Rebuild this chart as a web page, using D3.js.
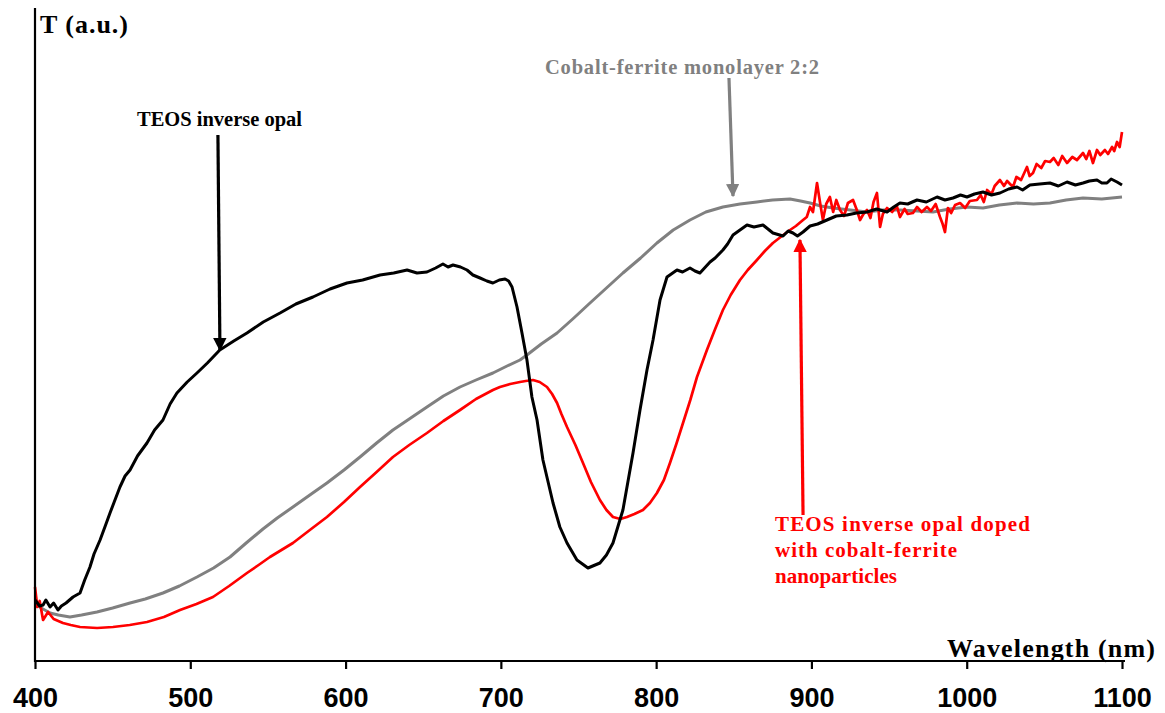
<!DOCTYPE html>
<html>
<head>
<meta charset="utf-8">
<script src="https://cdn.jsdelivr.net/npm/d3@7"></script>
<style>
  body { margin: 0; background: #fff; }
  svg { display: block; }
</style>
</head>
<body>
<svg id="chart" width="1165" height="713"></svg>
<script>
// ---- Data (wavelength nm, transmittance a.u.) ----
const xTicks = [400, 500, 600, 700, 800, 900, 1000, 1100];

const teosOpal = [
  [400,6.0],[403,5.4],[405.2,5.5],[407,6.0],[409.7,5.3],[412,5.7],[414.8,5.0],[417,5.4],[420,5.7],[424.5,6.3],[429,6.7],
  [432,8.0],[435.4,9.3],[438,10.6],[441.9,12.0],[445,13.3],[448.3,14.7],[451,15.8],[454.7,17.3],[458,18.4],[461.2,19.0],
  [466,20.4],[472.1,21.7],[477,23.0],[482.4,24.0],[487,25.6],[491.4,26.7],[498,27.8],[504.3,28.7],[511,29.7],[519,31.0],
  [528,31.9],[536.5,32.7],[547,33.8],[557.8,34.7],[568,35.6],[579,36.3],[590,37.1],[600.9,37.7],[611,38.0],[622.2,38.5],
  [631,38.7],[639.6,39.0],[646,38.7],[652.4,38.8],[658,39.2],[662.7,39.6],[666,39.3],[669.2,39.5],[674,39.3],[678.2,39.0],
  [682,38.5],[686.6,38.2],[691,37.9],[694.9,37.7],[699,38.0],[702.7,38.1],[705,37.9],[707.2,37.3],[710.4,35.3],[713.6,32.7],
  [716.8,30.0],[720,26.3],[723.3,24.0],[727.1,20.0],[733.6,15.7],[738,13.3],[742.6,11.7],[749,10.0],[756.1,9.2],[763.8,9.7],
  [768,10.5],[772.2,11.7],[778.6,15.0],[785.1,20.7],[789.6,25.0],[794.1,29.0],[798,32.0],[802.5,36.0],[807,38.3],[813.4,39.0],
  [817,38.8],[821.8,39.2],[825,38.9],[828.2,38.7],[834.7,39.8],[838,40.2],[843,41.0],[846,41.6],[849.5,42.5],[854,43.0],
  [858.5,43.5],[863,43.3],[868.8,43.5],[872,43.1],[875.2,42.7],[881.7,42.4],[885,42.9],[888.1,42.7],[891,42.4],[894.6,42.8],
  [899.1,43.4],[904,43.6],[910,44.0],[916,44.4],[922.9,44.5],[929,44.7],[935.8,44.8],[942,45.1],[948.7,44.8],[953,45.3],
  [957,45.7],[962,45.6],[968,46.0],[974,45.8],[980.9,46.3],[986,46.0],[991.2,46.2],[996,46.5],[1000.2,46.3],[1005,46.6],
  [1010.5,46.8],[1016,46.5],[1021.4,46.7],[1027,47.1],[1032.4,47.3],[1036,47.0],[1040.7,47.5],[1047,47.6],[1053.6,47.7],
  [1059,47.4],[1064.6,47.8],[1070,47.5],[1074.9,47.7],[1079,47.9],[1083.9,48.0],[1087,47.7],[1090.3,47.7],[1093,48.1],
  [1096.8,47.8],[1100,47.5]
];

const cofeMonolayer = [
  [400,5.7],[404,5.2],[409.7,4.7],[415,4.5],[422.5,4.3],[430,4.5],[439.9,4.8],[450,5.2],[461.2,5.7],[471,6.1],[482.4,6.7],
  [493,7.4],[504.3,8.3],[515,9.2],[525.6,10.3],[536,11.7],[546.8,13.1],[556,14.2],[566.1,15.3],[577,16.5],[588,17.7],
  [599,19.0],[609.3,20.3],[620,21.7],[630.5,23.0],[641,24.1],[652.4,25.3],[663,26.4],[673.7,27.3],[684,28.0],[694.9,28.7],
  [704,29.4],[712.3,30.0],[716.8,30.5],[726,31.6],[736.2,32.7],[747,34.2],[757.4,35.7],[768,37.2],[778.6,38.7],[790,40.2],
  [800.5,41.7],[811,43.0],[821.8,44.0],[832,44.8],[843,45.3],[854,45.6],[864.9,45.8],[875,46.0],[886.2,46.1],[893,45.9],
  [899.1,45.7],[906,45.4],[913.9,45.2],[925,45.0],[935.8,44.8],[946,45.0],[957,45.0],[968,44.9],[978.3,44.8],[989,45.1],
  [1000.2,45.3],[1010.5,45.2],[1021,45.5],[1032.4,45.7],[1043,45.6],[1053.6,45.7],[1064,46.0],[1074.9,46.2],[1087,46.1],
  [1100,46.3]
];

const teosDoped = [
  [400,7.3],[401.5,5.3],[403,5.9],[405.2,4.0],[408.4,4.8],[412,4.1],[418,3.7],[423,3.5],[429,3.3],[440,3.2],[450.2,3.3],
  [461,3.5],[472.1,3.8],[483,4.3],[493.4,5.0],[504,5.6],[514.6,6.3],[525,7.4],[536.5,8.7],[544,9.5],[551.3,10.3],
  [566.1,11.7],[577,13.0],[588,14.3],[599,15.8],[609.3,17.3],[620,18.8],[630.5,20.3],[641,21.5],[652.4,22.7],[663,23.9],
  [673.7,25.0],[684,26.1],[694.9,27.0],[699.4,27.3],[706,27.6],[712.3,27.8],[716,27.9],[720.7,28.0],[725,27.8],[729.7,27.3],
  [733,26.6],[736.2,25.7],[739,24.6],[742.6,23.3],[748,21.5],[752.9,19.7],[758,17.8],[763.8,16.0],[768,15.0],[772.2,14.3],
  [777,14.1],[781.2,14.3],[786,14.6],[791.5,15.0],[796,15.7],[800.5,16.7],[805,18.0],[808.9,19.7],[813,21.6],[817.3,23.7],
  [822,26.0],[826.3,28.3],[832.7,31.0],[838,33.1],[843,35.0],[848,36.5],[854,38.0],[859,39.0],[864.9,40.0],[870,40.9],
  [875.2,41.7],[881,42.4],[886.2,43.0],[890,43.4],[894.6,44.0],[897,44.3],[899.1,45.3],[901,44.8],[903.6,47.7],[905.5,45.8],
  [907.4,44.0],[909.5,45.6],[911.9,46.3],[914,44.8],[916,46.0],[918.4,45.0],[921,44.4],[923.5,45.7],[926.8,46.0],[929,45.1],
  [931.3,44.0],[933.5,44.6],[935.8,45.0],[938,44.2],[940,45.8],[942.2,46.7],[944.2,43.3],[946,44.6],[948.7,45.2],[952,44.8],
  [955,45.4],[957,44.3],[960,45.1],[962,44.6],[965.4,44.7],[968,45.3],[971,44.8],[974.4,45.3],[977,44.9],[980,45.6],
  [982.8,44.3],[984.5,43.6],[986,42.8],[987.9,45.2],[990,44.7],[992.5,45.5],[995.7,45.7],[999,45.2],[1002,45.9],[1006.6,46.0],
  [1009,46.5],[1011,45.8],[1013.1,47.0],[1016,46.6],[1018,47.4],[1021.4,48.0],[1024,47.4],[1026,47.9],[1029.8,47.3],
  [1032,48.3],[1035,48.0],[1038.8,49.3],[1040.5,48.4],[1042.7,48.7],[1045,49.6],[1048,49.2],[1050.5,49.9],[1053.6,49.8],
  [1056,50.2],[1059,49.5],[1061.5,50.4],[1064.6,49.7],[1068,50.3],[1071,50.0],[1074.9,50.7],[1077,50.1],[1079,50.9],
  [1081.3,49.7],[1083.9,51.0],[1086,50.5],[1089,51.0],[1091,50.6],[1093.6,51.3],[1095,50.9],[1096.8,51.8],[1098.5,51.3],
  [1100,52.8]
];

const seriesList = [
  { name: "Cobalt-ferrite monolayer 2:2", data: cofeMonolayer, color: "#808080", width: 3 },
  { name: "TEOS inverse opal doped with cobalt-ferrite nanoparticles", data: teosDoped, color: "#ff0000", width: 2.7 },
  { name: "TEOS inverse opal", data: teosOpal, color: "#000000", width: 3 }
];

// ---- Layout ----
const svg = d3.select("#chart");
const x = d3.scaleLinear().domain([400, 1100]).range([35, 1122]);
const y = d3.scaleLinear().domain([0, 65.2]).range([660, 8]);

const serif = "'Liberation Serif', 'Times New Roman', serif";
const sans = "'Liberation Sans', Arial, sans-serif";

// lines
const line = d3.line().x(d => x(d[0])).y(d => y(d[1])).curve(d3.curveLinear);
seriesList.forEach(s => {
  svg.append("path")
    .datum(s.data)
    .attr("fill", "none")
    .attr("stroke", s.color)
    .attr("stroke-width", s.width)
    .attr("stroke-linejoin", "round")
    .attr("d", line);
});

// axes
const xAxis = d3.axisBottom(x).tickValues(xTicks).tickFormat(d3.format("d"))
  .tickSize(8).tickSizeOuter(0).tickPadding(19);
const gx = svg.append("g").attr("transform", `translate(0,661)`).call(xAxis);
gx.select(".domain").attr("stroke", "#000").attr("stroke-width", 2.2).attr("d", "M34,0H1125");
gx.selectAll(".tick line").attr("stroke", "#000").attr("stroke-width", 2.2);
gx.selectAll(".tick text")
  .attr("fill", "#000")
  .style("font-family", sans)
  .style("font-weight", "bold")
  .style("font-size", "27px");

svg.append("line")
  .attr("x1", 35).attr("x2", 35).attr("y1", 8).attr("y2", 662)
  .attr("stroke", "#000").attr("stroke-width", 2.2);

// text helper: bold serif, stretched to the measured width
function label(txt, xp, yp, color, size, width, anchor) {
  svg.append("text").attr("x", xp).attr("y", yp).attr("fill", color)
    .attr("text-anchor", anchor || "start")
    .attr("textLength", width).attr("lengthAdjust", "spacing")
    .style("font-family", serif).style("font-weight", "bold").style("font-size", size + "px")
    .text(txt);
}

// axis titles
label("T (a.u.)", 40, 33, "#000", 26, 88);
label("Wavelength (nm)", 947, 657, "#000", 26, 208);

// arrow markers
const defs = svg.append("defs");
[["arrBlack", "#000000"], ["arrGray", "#808080"], ["arrRed", "#ff0000"]].forEach(([id, c]) => {
  defs.append("marker")
    .attr("id", id).attr("viewBox", "0 0 10 10").attr("refX", 9).attr("refY", 5)
    .attr("markerWidth", 4.2).attr("markerHeight", 4.2).attr("orient", "auto")
    .append("path").attr("d", "M0,0L10,5L0,10Z").attr("fill", c);
});

function arrow(x1, y1, x2, y2, color, marker) {
  svg.append("line")
    .attr("x1", x(x1)).attr("y1", y(y1)).attr("x2", x(x2)).attr("y2", y(y2))
    .attr("stroke", color).attr("stroke-width", 3.2)
    .attr("marker-end", `url(#${marker})`);
}
arrow(517.8, 52.5, 519.1, 31.0, "#000000", "arrBlack");
arrow(846.9, 58.2, 849.5, 46.4, "#808080", "arrGray");
arrow(894.6, 14.5, 892.6, 42.0, "#ff0000", "arrRed");

// annotation labels
label("TEOS inverse opal", 137, 126, "#000000", 20.5, 165);
label("Cobalt-ferrite monolayer 2:2", 545, 74, "#808080", 20.5, 274);
label("TEOS inverse opal doped", 775, 531, "#ff0000", 21, 255);
label("with cobalt-ferrite", 775, 557, "#ff0000", 21, 182);
label("nanoparticles", 775, 583, "#ff0000", 21, 122);
</script>
</body>
</html>
